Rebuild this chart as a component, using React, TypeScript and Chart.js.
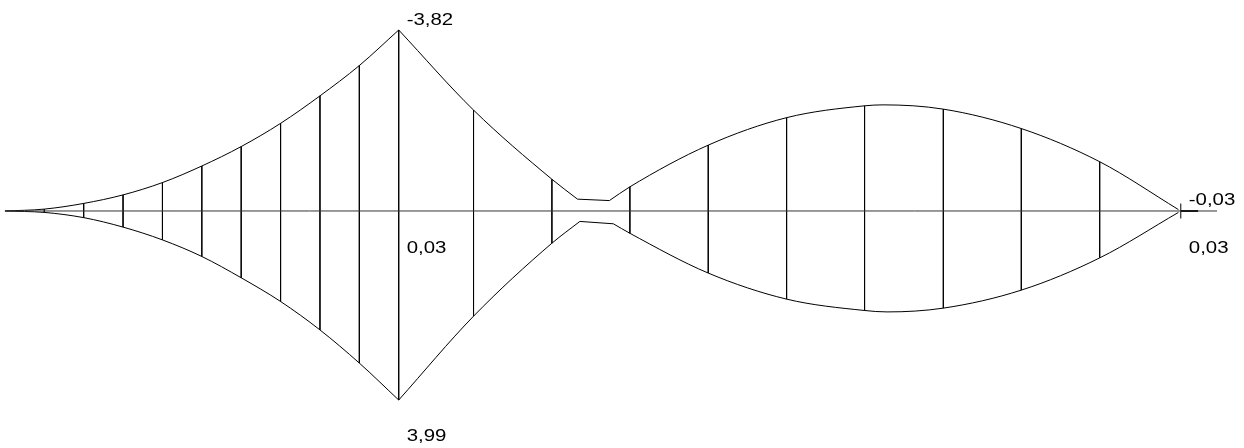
import React, { useEffect, useRef } from "react";
import { Chart, registerables } from "chart.js";

Chart.register(...registerables);

// Stations along the beam (m)
const leftX = [0, 1, 2, 3, 4, 5, 6, 7, 8, 9, 10];
const leftTop = [0, -0.04, -0.16, -0.34, -0.6, -0.95, -1.36, -1.85, -2.43, -3.07, -3.82];
const leftBot = [0, 0.03, 0.14, 0.34, 0.61, 0.96, 1.41, 1.91, 2.51, 3.21, 3.99];

const rightX = [10, 11.9, 13.89, 15.87, 17.86, 19.85, 21.83, 23.83, 25.81, 27.8, 29.8];
const rightTop = [-3.82, -2.13, -0.67, -0.51, -1.39, -1.97, -2.22, -2.15, -1.74, -1.04, -0.03];
const rightBot = [3.99, 2.22, 0.68, 0.47, 1.31, 1.86, 2.1, 2.05, 1.67, 0.99, 0.03];

// Kinks near the zero zone
const topKinkX = [14.54, 15.35];
const topKinkY = [-0.25, -0.22];
const botKinkX = [14.6, 15.45];
const botKinkY = [0.22, 0.27];

// Span extremes between stations
const topPeak = { x: 22.3, y: -2.24 };
const botPeak = { x: 22.4, y: 2.13 };

// Beam axis and support
const axisX = [0.05, 30.78];
const supportX = 29.86;
const supportTailX = 30.3;

// Value labels
const valueLabels = [
  { x: 10, v: -3.82, text: "-3,82" },
  { x: 10, v: 3.99, text: "3,99" },
  { x: 10, v: 0.03, text: "0,03" },
  { x: 29.86, v: -0.03, text: "-0,03" },
  { x: 29.86, v: 0.03, text: "0,03" },
];

const pts = (xs: number[], ys: number[]) => xs.map((x, i) => ({ x, y: ys[i] }));

function buildDatasets() {
  const curve = (data: any[]) => ({
    data,
    borderColor: "#000",
    borderWidth: 1,
    pointRadius: 0,
    cubicInterpolationMode: "monotone" as const,
    fill: false,
  });
  const straight = (data: any[], w = 1) => ({
    data,
    borderColor: "#000",
    borderWidth: w,
    pointRadius: 0,
    fill: false,
  });

  const leftTopPts = pts(leftX, leftTop);
  const leftBotPts = pts(leftX, leftBot);

  const rtA = [...pts(rightX.slice(0, 3), rightTop.slice(0, 3)), { x: topKinkX[0], y: topKinkY[0] }];
  const rtB = pts(topKinkX, topKinkY);
  const rtC = [{ x: topKinkX[1], y: topKinkY[1] }, ...pts(rightX.slice(3), rightTop.slice(3)), topPeak].sort(
    (a, b) => a.x - b.x
  );

  const rbA = [...pts(rightX.slice(0, 3), rightBot.slice(0, 3)), { x: botKinkX[0], y: botKinkY[0] }];
  const rbB = pts(botKinkX, botKinkY);
  const rbC = [{ x: botKinkX[1], y: botKinkY[1] }, ...pts(rightX.slice(3), rightBot.slice(3)), botPeak].sort(
    (a, b) => a.x - b.x
  );

  // ordinates
  const ord: any[] = [];
  for (let i = 1; i < leftX.length; i++) {
    ord.push({ x: leftX[i], y: leftTop[i] }, { x: leftX[i], y: leftBot[i] }, { x: leftX[i], y: null });
  }
  for (let i = 1; i < rightX.length - 1; i++) {
    ord.push({ x: rightX[i], y: rightTop[i] }, { x: rightX[i], y: rightBot[i] }, { x: rightX[i], y: null });
  }

  return [
    { ...straight(axisX.map((x) => ({ x, y: 0 }))), borderColor: "#333" },
    curve(leftTopPts),
    curve(leftBotPts),
    curve(rtA),
    straight(rtB),
    curve(rtC),
    curve(rbA),
    straight(rbB),
    curve(rbC),
    { ...straight(ord, 0.9), spanGaps: false },
    straight([{ x: supportX, y: 0 }, { x: supportTailX, y: 0 }], 2),
    {
      data: [{ x: supportX, y: 0 }],
      showLine: false,
      pointStyle: "line",
      rotation: 90,
      pointRadius: 7.5,
      pointBorderColor: "#000",
      pointBorderWidth: 1,
      borderColor: "#000",
    },
  ];
}

const labelPlugin = {
  id: "valueLabels",
  afterDatasetsDraw(chart: any) {
    const { ctx, scales } = chart;
    ctx.save();
    ctx.fillStyle = "#000";
    ctx.font = '17px "Liberation Sans", Arial, sans-serif';
    ctx.textBaseline = "alphabetic";
    ctx.textAlign = "left";
    valueLabels.forEach((l) => {
      const px = scales.x.getPixelForValue(l.x);
      const py = scales.y.getPixelForValue(l.v);
      const by = l.v < 0 ? py - 5 : py + 41;
      ctx.save();
      ctx.translate(px + 8, by);
      ctx.scale(1.2, 1);
      ctx.fillText(l.text, 0, 0);
      ctx.restore();
    });
    ctx.restore();
  },
};

export default function App() {
  const ref = useRef<HTMLCanvasElement>(null);
  useEffect(() => {
    if (!ref.current) return;
    const chart = new Chart(ref.current, {
      type: "line",
      data: { datasets: buildDatasets() as any },
      options: {
        animation: false,
        responsive: false,
        devicePixelRatio: 1,
        layout: { padding: 0, autoPadding: false },
        plugins: { legend: { display: false }, tooltip: { enabled: false } },
        scales: {
          x: { type: "linear", min: -0.125, max: 31.465, display: false },
          y: { type: "linear", min: -4.4533, max: 5.0021, reverse: true, display: false },
        },
      },
      plugins: [labelPlugin],
    });
    return () => chart.destroy();
  }, []);
  return (
    <div style={{ position: "fixed", left: 0, top: 0, width: 1244, height: 448, background: "#fff" }}>
      <canvas ref={ref} width={1244} height={448} />
    </div>
  );
}
